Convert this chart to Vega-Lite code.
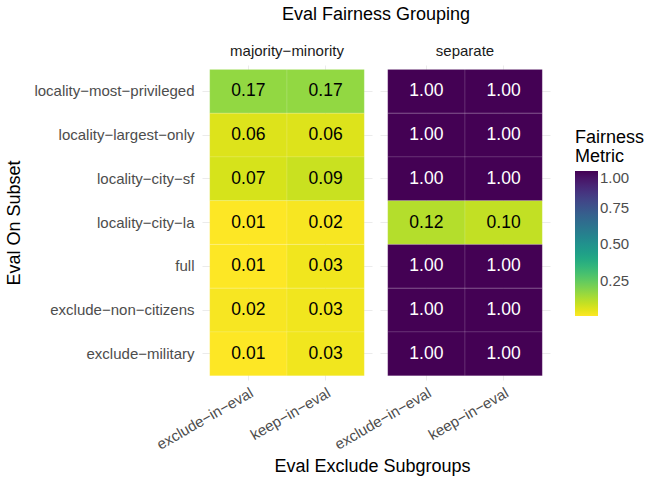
{
  "$schema": "https://vega.github.io/schema/vega-lite/v6.json",
  "background": "white",
  "padding": {"left": 5, "top": 6, "right": 5, "bottom": 5},
  "data": {"values": [
    {"group": "majority-minority", "subset": "locality-most-privileged", "exclude": "exclude-in-eval", "value": 0.17},
    {"group": "majority-minority", "subset": "locality-most-privileged", "exclude": "keep-in-eval", "value": 0.17},
    {"group": "majority-minority", "subset": "locality-largest-only", "exclude": "exclude-in-eval", "value": 0.06},
    {"group": "majority-minority", "subset": "locality-largest-only", "exclude": "keep-in-eval", "value": 0.06},
    {"group": "majority-minority", "subset": "locality-city-sf", "exclude": "exclude-in-eval", "value": 0.07},
    {"group": "majority-minority", "subset": "locality-city-sf", "exclude": "keep-in-eval", "value": 0.09},
    {"group": "majority-minority", "subset": "locality-city-la", "exclude": "exclude-in-eval", "value": 0.01},
    {"group": "majority-minority", "subset": "locality-city-la", "exclude": "keep-in-eval", "value": 0.02},
    {"group": "majority-minority", "subset": "full", "exclude": "exclude-in-eval", "value": 0.01},
    {"group": "majority-minority", "subset": "full", "exclude": "keep-in-eval", "value": 0.03},
    {"group": "majority-minority", "subset": "exclude-non-citizens", "exclude": "exclude-in-eval", "value": 0.02},
    {"group": "majority-minority", "subset": "exclude-non-citizens", "exclude": "keep-in-eval", "value": 0.03},
    {"group": "majority-minority", "subset": "exclude-military", "exclude": "exclude-in-eval", "value": 0.01},
    {"group": "majority-minority", "subset": "exclude-military", "exclude": "keep-in-eval", "value": 0.03},
    {"group": "separate", "subset": "locality-most-privileged", "exclude": "exclude-in-eval", "value": 1.0},
    {"group": "separate", "subset": "locality-most-privileged", "exclude": "keep-in-eval", "value": 1.0},
    {"group": "separate", "subset": "locality-largest-only", "exclude": "exclude-in-eval", "value": 1.0},
    {"group": "separate", "subset": "locality-largest-only", "exclude": "keep-in-eval", "value": 1.0},
    {"group": "separate", "subset": "locality-city-sf", "exclude": "exclude-in-eval", "value": 1.0},
    {"group": "separate", "subset": "locality-city-sf", "exclude": "keep-in-eval", "value": 1.0},
    {"group": "separate", "subset": "locality-city-la", "exclude": "exclude-in-eval", "value": 0.12},
    {"group": "separate", "subset": "locality-city-la", "exclude": "keep-in-eval", "value": 0.10},
    {"group": "separate", "subset": "full", "exclude": "exclude-in-eval", "value": 1.0},
    {"group": "separate", "subset": "full", "exclude": "keep-in-eval", "value": 1.0},
    {"group": "separate", "subset": "exclude-non-citizens", "exclude": "exclude-in-eval", "value": 1.0},
    {"group": "separate", "subset": "exclude-non-citizens", "exclude": "keep-in-eval", "value": 1.0},
    {"group": "separate", "subset": "exclude-military", "exclude": "exclude-in-eval", "value": 1.0},
    {"group": "separate", "subset": "exclude-military", "exclude": "keep-in-eval", "value": 1.0}
  ]},
  "title": {"text": "Eval Exclude Subgroups", "orient": "bottom", "anchor": "middle", "font": "Liberation Sans", "fontSize": 18, "fontWeight": "normal", "color": "black", "offset": 6, "dx": 47},
  "facet": {
    "column": {
      "field": "group", "type": "nominal", "sort": ["majority-minority", "separate"],
      "title": "Eval Fairness Grouping",
      "header": {"titleFont": "Liberation Sans", "titleFontSize": 18, "titleFontWeight": "normal", "titleColor": "black", "titlePadding": 10,
                 "labelFont": "Liberation Sans", "labelFontSize": 15, "labelColor": "#1A1A1A", "labelPadding": 6,
                 "labelExpr": "replace(datum.label, /-/g, '\u2212')"}
    }
  },
  "spacing": 8,
  "spec": {
    "width": 170,
    "height": 315,
    "encoding": {
      "x": {"field": "exclude", "type": "nominal", "sort": ["exclude-in-eval", "keep-in-eval"],
            "scale": {"paddingInner": 0, "paddingOuter": 0.1},
            "axis": {"title": null, "labelAngle": -30, "labelAlign": "right", "labelBaseline": "top", "labelFont": "Liberation Sans", "labelFontSize": 15, "labelColor": "#4D4D4D", "ticks": false, "domain": false, "labelPadding": 5, "grid": true, "bandPosition": 0.5, "gridColor": "#EBEBEB", "gridWidth": 1, "zindex": 0,
                     "labelExpr": "replace(datum.label, /-/g, '\u2212')"}},
      "y": {"field": "subset", "type": "nominal",
            "sort": ["locality-most-privileged", "locality-largest-only", "locality-city-sf", "locality-city-la", "full", "exclude-non-citizens", "exclude-military"],
            "scale": {"paddingInner": 0, "paddingOuter": 0.1},
            "axis": {"title": "Eval On Subset", "titleFont": "Liberation Sans", "titleFontSize": 18, "titleFontWeight": "normal", "titleColor": "black", "titlePadding": 10, "labelFont": "Liberation Sans", "labelFontSize": 15, "labelColor": "#4D4D4D", "ticks": false, "domain": false, "labelPadding": 8, "grid": true, "bandPosition": 0.5, "gridColor": "#EBEBEB", "gridWidth": 1, "zindex": 0,
                     "labelExpr": "replace(datum.label, /-/g, '\u2212')"}}
    },
    "layer": [
      {"mark": {"type": "rect", "stroke": "white", "strokeWidth": 0.5, "strokeOpacity": 0.25},
       "encoding": {"color": {"field": "value", "type": "quantitative",
          "scale": {"scheme": "viridis", "reverse": true},
          "legend": {"orient": "none", "legendX": 373, "legendY": 64, "title": ["Fairness", "Metric"], "titleFont": "Liberation Sans", "titleFontSize": 18, "titleFontWeight": "normal", "titleColor": "black", "titleLineHeight": 19,
                     "labelFont": "Liberation Sans", "labelFontSize": 15, "labelColor": "#4D4D4D", "values": [0.25, 0.5, 0.75, 1.0], "format": ".2f",
                     "gradientLength": 145, "gradientThickness": 23, "tickCount": 4}}}},
      {"mark": {"type": "text", "font": "Liberation Sans", "fontSize": 17.5},
       "encoding": {"text": {"field": "value", "type": "quantitative", "format": ".2f"},
                    "color": {"condition": {"test": "datum.value > 0.5", "value": "white"}, "value": "black"}}}
    ]
  },
  "config": {"view": {"stroke": null}}
}
